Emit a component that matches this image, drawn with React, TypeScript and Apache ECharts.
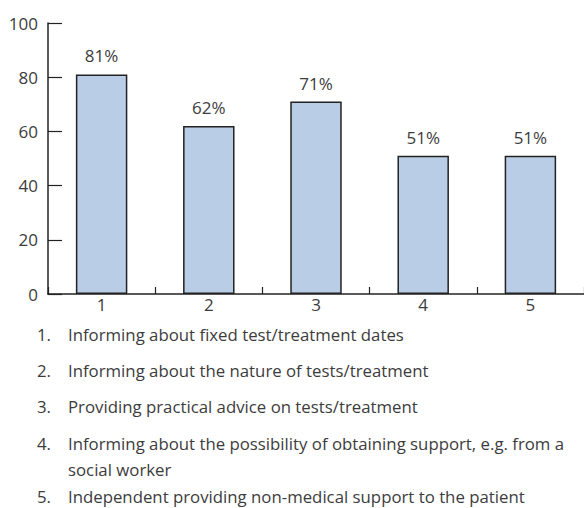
import React, { useEffect, useRef } from "react";
import * as echarts from "echarts";

const categories = ["1", "2", "3", "4", "5"];
const values = [81, 62, 71, 51, 51];
const yTicks = [0, 20, 40, 60, 80, 100];
const legendNumbers = ["1.", "2.", "3.", "4.", "", "5."];
const legendLines = [
  "Informing about fixed test/treatment dates",
  "Informing about the nature of tests/treatment",
  "Providing practical advice on tests/treatment",
  "Informing about the possibility of obtaining support, e.g. from a",
  "social worker",
  "Independent providing non-medical support to the patient",
];
const legendY = [334, 370, 406, 443, 469, 496];

const FONT = "'Open Sans', 'Noto Sans', sans-serif";
const TEXT = "#3c3c3c";
const LINE = "#222222";

export default function App() {
  const ref = useRef<HTMLDivElement>(null);

  useEffect(() => {
    if (!ref.current) return;
    const chart = echarts.init(ref.current, undefined, { renderer: "svg" });

    // numbered key below the axis
    const graphic: any[] = [];
    legendLines.forEach((line, i) => {
      if (legendNumbers[i]) {
        graphic.push({
          type: "text",
          x: 37,
          y: legendY[i],
          style: {
            text: legendNumbers[i],
            font: `16.8px ${FONT}`,
            fill: TEXT,
            verticalAlign: "middle",
          },
        });
      }
      graphic.push({
        type: "text",
        x: 68,
        y: legendY[i],
        style: {
          text: line,
          font: `16.8px ${FONT}`,
          fill: TEXT,
          verticalAlign: "middle",
        },
      });
    });

    chart.setOption({
      animation: false,
      backgroundColor: "#ffffff",
      grid: { left: 48, right: 0, top: 23, bottom: 214, containLabel: false },
      xAxis: {
        type: "category",
        data: categories,
        boundaryGap: true,
        axisLine: { show: true, lineStyle: { color: LINE, width: 1.5 } },
        axisTick: {
          show: true,
          inside: true,
          length: 7,
          alignWithLabel: false,
          lineStyle: { color: LINE, width: 1.2 },
        },
        axisLabel: {
          color: TEXT,
          fontFamily: FONT,
          fontSize: 17,
          margin: 2,
        },
        splitLine: { show: false },
      },
      yAxis: {
        type: "value",
        min: 0,
        max: 100,
        interval: 20,
        axisLine: { show: true, lineStyle: { color: LINE, width: 1.5 } },
        axisTick: {
          show: true,
          inside: true,
          length: 14,
          lineStyle: { color: LINE, width: 1.2 },
        },
        axisLabel: {
          color: TEXT,
          fontFamily: FONT,
          fontSize: 17,
          margin: 10,
          formatter: (v: number) => (yTicks.includes(v) ? String(v) : ""),
        },
        splitLine: { show: false },
      },
      series: [
        {
          type: "bar",
          data: values,
          barWidth: "48%",
          itemStyle: {
            color: "#b9cde6",
            borderColor: LINE,
            borderWidth: 1.5,
          },
          label: {
            show: true,
            position: "top",
            distance: 10,
            formatter: "{c}%",
            color: TEXT,
            fontFamily: FONT,
            fontSize: 17,
          },
        },
      ],
      graphic,
    });

    return () => chart.dispose();
  }, []);

  return (
    <div
      ref={ref}
      style={{ position: "fixed", left: 0, top: 0, width: 584, height: 508 }}
    />
  );
}
